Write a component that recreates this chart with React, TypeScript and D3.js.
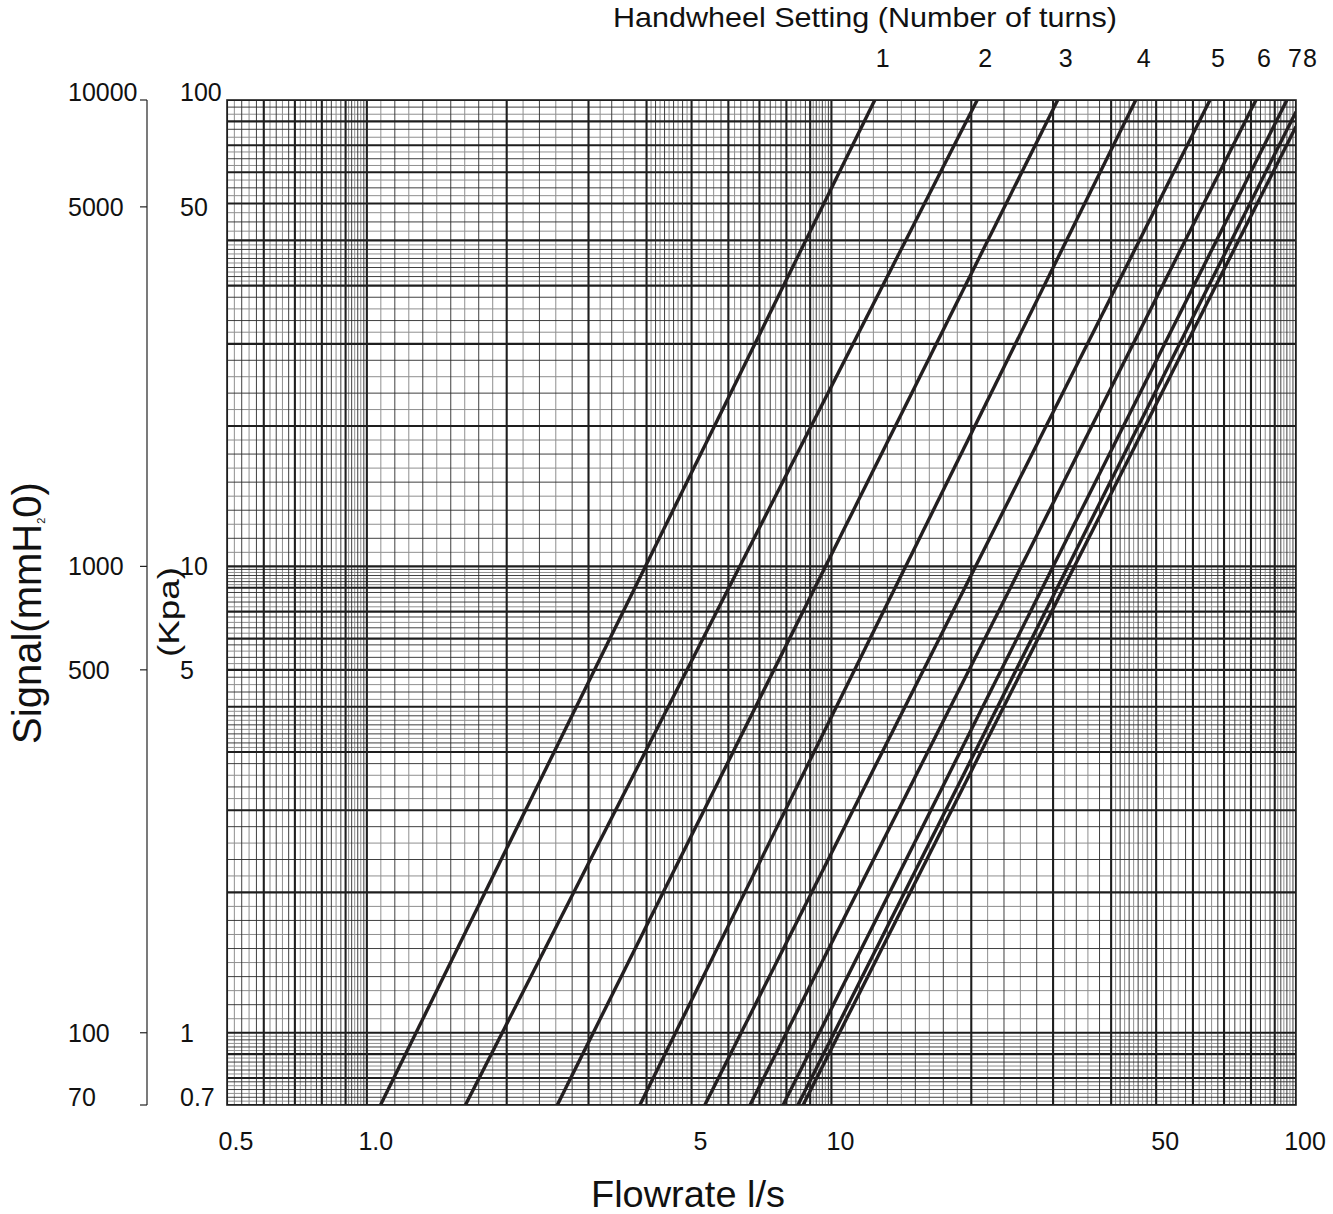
import React from "react";
import * as d3 from "d3";

// ---------- data ----------
const FLOW_TICKS = [0.5, 1, 5, 10, 50, 100];
const FLOW_TICK_LABELS = ["0.5", "1.0", "5", "10", "50", "100"];

// left axis: tick positions in kPa as they sit on the original sheet
const KPA_TICKS = [100, 59, 10, 6, 1, 0.7];
const KPA_LABELS = ["100", "50", "10", "5", "1", "0.7"];
const MMH2O_LABELS = ["10000", "5000", "1000", "500", "100", "70"];

// handwheel curves: two end points each (flow l/s, signal kPa)
const TURN_LABELS = ["1", "2", "3", "4", "5", "6", "7", "8", ""];
const FLOW_LOW = [1.07, 1.63, 2.57, 3.87, 5.34, 6.68, 7.87, 8.47, 8.69];
const SIGNAL_LOW = [0.7, 0.7, 0.7, 0.7, 0.7, 0.7, 0.7, 0.7, 0.7];
const FLOW_HIGH = [12.4, 20.6, 30.7, 45.2, 65.3, 82.0, 95.6, 100, 100];
const SIGNAL_HIGH = [100, 100, 100, 100, 100, 100, 100, 94.4, 87.7];

// log-paper grid: number of subdivisions between major lines m -> m+1 (m = 1..9)
const X_SUBDIV = [10, 5, 5, 10, 5, 5, 5, 5, 7];
const Y_SUBDIV_LOW = [10, 5, 5, 10, 5, 5, 7, 6, 6]; // decade 0.1 - 1
const Y_SUBDIV_MID = [10, 5, 5, 10, 5, 5, 5, 5, 7]; // decade 1 - 10
const Y_SUBDIV_HIGH = [10, 5, 5, 10, 4, 4, 4, 3, 3]; // decade 10 - 100
const DECADES = [0.1, 1, 10];

// ---------- layout ----------
const W = 1333;
const H = 1214;
const LEFT = 227;
const RIGHT = 1296;
const TOP = 100;
const BOTTOM = 1105;
const AXIS_X = 147;
const FONT = "'Liberation Sans', Arial, Helvetica, sans-serif";

type GridLine = { pos: number; kind: "major" | "dark" | "gray" };

function gridLines(
  scale: d3.ScaleLogarithmic<number, number>,
  subdivs: number[][],
  lo: number,
  hi: number
): GridLine[] {
  const out: GridLine[] = [];
  const inside = (p: number) => p >= Math.min(lo, hi) - 0.5 && p <= Math.max(lo, hi) + 0.5;
  DECADES.forEach((d, di) => {
    for (let m = 1; m <= 9; m++) {
      const pa = scale(m * d);
      const pb = scale((m + 1) * d);
      if (inside(pa)) out.push({ pos: pa, kind: "major" });
      const n = subdivs[di][m - 1];
      for (let k = 1; k < n; k++) {
        const p = pa + ((pb - pa) * k) / n;
        if (inside(p)) out.push({ pos: p, kind: k % 2 === 0 ? "dark" : "gray" });
      }
    }
  });
  const last = scale(100);
  if (inside(last)) out.push({ pos: last, kind: "major" });
  return out;
}

const STYLE = {
  gray: { stroke: "#8f8f8f", width: 1.0 },
  dark: { stroke: "#2a2a2a", width: 0.9 },
  major: { stroke: "#1e1e1e", width: 2.1 },
};

export default function App() {
  const x = d3.scaleLog().domain([0.5, 100]).range([LEFT, RIGHT]);
  const y = d3.scaleLog().domain([0.7, 100]).range([BOTTOM, TOP]);

  const vLines = gridLines(x, [X_SUBDIV, X_SUBDIV, X_SUBDIV], LEFT, RIGHT);
  const hLines = gridLines(y, [Y_SUBDIV_LOW, Y_SUBDIV_MID, Y_SUBDIV_HIGH], TOP, BOTTOM);

  const line = d3
    .line<[number, number]>()
    .x((d) => x(d[0]))
    .y((d) => y(d[1]));

  const curves = TURN_LABELS.map((t, i) => {
    const pts: [number, number][] = [
      [FLOW_LOW[i], SIGNAL_LOW[i]],
      [FLOW_HIGH[i], SIGNAL_HIGH[i]],
    ];
    const slope =
      (Math.log10(SIGNAL_HIGH[i]) - Math.log10(SIGNAL_LOW[i])) /
      (Math.log10(FLOW_HIGH[i]) - Math.log10(FLOW_LOW[i]));
    const qTop = Math.pow(
      10,
      Math.log10(FLOW_HIGH[i]) + (Math.log10(100) - Math.log10(SIGNAL_HIGH[i])) / slope
    );
    return { t, d: line(pts) || "", labelX: x(qTop) + 8 };
  });

  const order: GridLine["kind"][] = ["gray", "dark", "major"];
  const yMax = d3.max(KPA_TICKS) as number;
  const yMin = d3.min(KPA_TICKS) as number;
  const labelY = (v: number) => y(v) + (v === yMax || v === yMin ? 1 : 9);

  return (
    <svg
      width={W}
      height={H}
      viewBox={`0 0 ${W} ${H}`}
      style={{ position: "absolute", left: 0, top: 0, background: "#fff" }}
      fontFamily={FONT}
    >
      <rect x={0} y={0} width={W} height={H} fill="#fff" />
      <defs>
        <clipPath id="plot">
          <rect x={LEFT} y={TOP} width={RIGHT - LEFT} height={BOTTOM - TOP} />
        </clipPath>
      </defs>

      {/* grid */}
      <g clipPath="url(#plot)">
        {order.map((kind) => (
          <g key={kind} stroke={STYLE[kind].stroke} strokeWidth={STYLE[kind].width}>
            {vLines
              .filter((g) => g.kind === kind)
              .map((g, i) => (
                <line key={"v" + i} x1={g.pos} x2={g.pos} y1={TOP} y2={BOTTOM} />
              ))}
            {hLines
              .filter((g) => g.kind === kind)
              .map((g, i) => (
                <line key={"h" + i} x1={LEFT} x2={RIGHT} y1={g.pos} y2={g.pos} />
              ))}
          </g>
        ))}
        {curves.map((c, i) => (
          <path key={i} d={c.d} fill="none" stroke="#231f20" strokeWidth={3.4} />
        ))}
      </g>
      <rect
        x={LEFT}
        y={TOP}
        width={RIGHT - LEFT}
        height={BOTTOM - TOP}
        fill="none"
        stroke="#1e1e1e"
        strokeWidth={1.6}
      />

      {/* left axis */}
      <line x1={AXIS_X} x2={AXIS_X} y1={y(100)} y2={y(0.7)} stroke="#222" strokeWidth={1.2} />
      {KPA_TICKS.map((v, i) => (
        <g key={"yt" + i}>
          <line x1={AXIS_X - 7} x2={AXIS_X} y1={y(v)} y2={y(v)} stroke="#222" strokeWidth={1.2} />
          <text x={68} y={labelY(v)} fontSize={25} fill="#111">
            {MMH2O_LABELS[i]}
          </text>
          <text x={180} y={labelY(v)} fontSize={25} fill="#111">
            {KPA_LABELS[i]}
          </text>
        </g>
      ))}

      {/* x tick labels */}
      {FLOW_TICKS.map((v, i) => (
        <text key={"xt" + i} x={x(v) + 9} y={1150} fontSize={25} textAnchor="middle" fill="#111">
          {FLOW_TICK_LABELS[i]}
        </text>
      ))}

      {/* turn labels */}
      {curves
        .filter((c) => c.t !== "")
        .map((c, i) => (
          <text key={"tl" + i} x={c.labelX} y={67} fontSize={25} textAnchor="middle" fill="#111">
            {c.t}
          </text>
        ))}

      {/* titles */}
      <text
        x={865}
        y={27}
        fontSize={28}
        textAnchor="middle"
        fill="#111"
        textLength={504}
        lengthAdjust="spacingAndGlyphs"
      >
        Handwheel Setting (Number of turns)
      </text>
      <text
        x={688}
        y={1207}
        fontSize={37}
        textAnchor="middle"
        fill="#111"
        textLength={194}
        lengthAdjust="spacingAndGlyphs"
      >
        Flowrate l/s
      </text>
      <text transform="translate(41,613) rotate(-90)" fontSize={40} textAnchor="middle" fill="#111">
        Signal(mmH
        <tspan fontSize={11} dy={4}>
          2
        </tspan>
        <tspan dy={-4}>0)</tspan>
      </text>
      <text
        transform="translate(179,612) rotate(-90)"
        fontSize={30}
        textAnchor="middle"
        fill="#111"
        textLength={90}
        lengthAdjust="spacingAndGlyphs"
      >
        (Kpa)
      </text>
    </svg>
  );
}
